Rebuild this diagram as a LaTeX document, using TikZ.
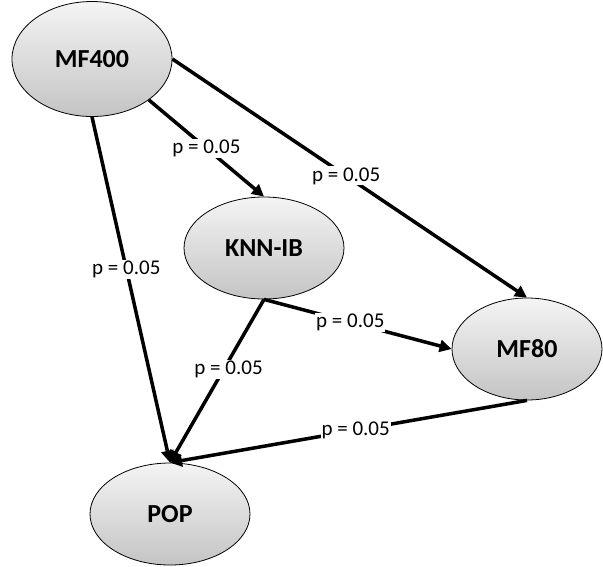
\documentclass[tikz,border=0pt]{standalone}
\usepackage{fontspec}
\setmainfont{Carlito}
\usetikzlibrary{shapes.geometric,arrows.meta}

\tikzset{
  stage/.style={ellipse, draw=black, line width=0.8pt, inner sep=0pt,
    top color={rgb,255:red,244;green,244;blue,244},
    bottom color={rgb,255:red,196;green,196;blue,196},
    font=\fontsize{26}{30}\selectfont\bfseries},
  edge/.style={line width=3.5pt, -{Triangle[length=12pt,width=12pt]}},
  lbl/.style={fill=white, inner sep=1pt, font=\fontsize{21}{24}\selectfont}
}

\begin{document}
\begin{tikzpicture}[x=1pt, y=-1pt]
  \useasboundingbox (0,0) rectangle (603,566);

  % models
  \node[stage, minimum width=160pt, minimum height=115pt] (m400) at (92,59)  {MF400};
  \node[stage, minimum width=160pt, minimum height=102pt] (knn)  at (264,248) {KNN-IB};
  \node[stage, minimum width=150pt, minimum height=102pt] (m80)  at (527,349) {MF80};
  \node[stage, minimum width=160pt, minimum height=102pt] (pop)  at (170,514) {POP};

  % comparisons
  \draw[edge] (m400.south east) -- node[lbl, pos=0.5]  {p = 0.05} (knn.north);
  \draw[edge] (m400.east)       -- node[lbl, pos=0.49] {p = 0.05} (m80.north);
  \draw[edge] (m400.south)      -- node[lbl, pos=0.44] {p = 0.05} (pop.north);
  \draw[edge] (knn.south)       -- node[lbl, pos=0.43, xshift=5pt] {p = 0.05} (pop.north);
  \draw[edge] (knn.south)       -- node[lbl, pos=0.46] {p = 0.05} (m80.west);
  \draw[edge] (m80.south)       -- node[lbl, pos=0.48] {p = 0.05} (pop.north);
\end{tikzpicture}
\end{document}
